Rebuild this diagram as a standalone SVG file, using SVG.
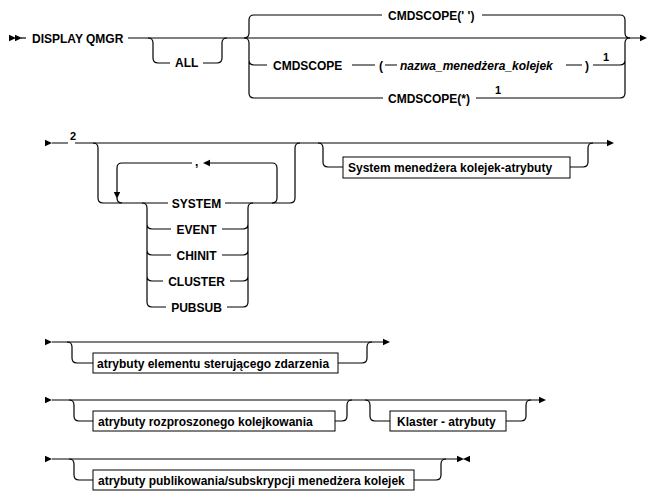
<svg xmlns="http://www.w3.org/2000/svg" width="649" height="494" viewBox="0 0 649 494">
<style>
  .ln{fill:none;stroke:#000;stroke-width:1.2}
  .kw{font-family:"Liberation Sans",Arial,sans-serif;font-weight:bold;font-size:12px;fill:#000}
  .var{font-style:italic}
  .sup{font-family:"Liberation Sans",Arial,sans-serif;font-weight:bold;font-size:11px;fill:#000}
  .box{fill:#fff;stroke:#000;stroke-width:1}
  .hd{fill:#000}
</style>
<defs>
  <path id="ah" d="M0,-3.2 L7,0 L0,3.2 Z"/>
</defs>
<rect width="649" height="494" fill="#fff"/>

<!-- connectors: rails, branches, loops and arrowheads -->
<g id="connectors">
  <!-- row 1 -->
  <use href="#ah" class="hd" x="9" y="38"/>
  <use href="#ah" class="hd" x="15" y="38"/>
  <path class="ln" d="M21,38 H26"/>
  <path class="ln" d="M128,38 H640"/>
  <use href="#ah" class="hd" x="640" y="38"/>
  <path class="ln" d="M148,38 Q153,38 153,43 V58 Q153,63 158,63 H170 M203,63 H217 Q222,63 222,58 V43 Q222,38 227,38"/>
  <path class="ln" d="M244,38 Q249,38 249,33 V20 Q249,15 254,15 H382 M244,38 Q249,38 249,43 V93 Q249,98 254,98 H383 M249,60 Q249,65 254,65 H267"/>
  <path class="ln" d="M352,65 H375 M385,65 H397 M566,65 H582"/>
  <path class="ln" d="M482,15 H620 Q625,15 625,20 V33 Q625,38 630,38 M476,98 H620 Q625,98 625,93 V43 Q625,38 630,38 M593,65 H620 Q625,65 625,60"/>

  <!-- row 2 -->
  <use href="#ah" class="hd" x="45" y="143"/>
  <path class="ln" d="M52,143 H68 M75,143 H607"/>
  <use href="#ah" class="hd" x="607" y="143"/>
  <path class="ln" d="M93,143 Q98,143 98,148 V198 Q98,203 103,203 H168 M225,203 H290 Q295,203 295,198 V148 Q295,143 300,143"/>
  <path class="ln" d="M272,203 Q277,203 277,198 V168 Q277,163 272,163 H210 M192,163 H122 Q117,163 117,168 V193 M117,198 Q117,203 122,203"/>
  <use href="#ah" class="hd" transform="translate(210,163) rotate(180)"/>
  <use href="#ah" class="hd" transform="translate(117,192) rotate(90)"/>
  <path class="ln" d="M142,203 Q147,203 147,208 V302 Q147,307 152,307 H166 M147,224 Q147,229 152,229 H171 M147,250 Q147,255 152,255 H171 M147,276 Q147,281 152,281 H163"/>
  <path class="ln" d="M222,229 H243 Q248,229 248,224 M222,255 H243 Q248,255 248,250 M230,281 H243 Q248,281 248,276 M227,307 H243 Q248,307 248,302 V208 Q248,203 253,203"/>
  <path class="ln" d="M318,143 Q323,143 323,148 V162 Q323,167 328,167 H343 M570,167 H583 Q588,167 588,162 V148 Q588,143 593,143"/>

  <!-- row 3 -->
  <use href="#ah" class="hd" x="45" y="342"/>
  <path class="ln" d="M52,342 H383"/>
  <use href="#ah" class="hd" x="383" y="342"/>
  <path class="ln" d="M67,342 Q72,342 72,347 V358 Q72,363 77,363 H93 M338,363 H362 Q367,363 367,358 V347 Q367,342 372,342"/>

  <!-- row 4 -->
  <use href="#ah" class="hd" x="45" y="400"/>
  <path class="ln" d="M52,400 H539"/>
  <use href="#ah" class="hd" x="539" y="400"/>
  <path class="ln" d="M69,400 Q74,400 74,405 V416 Q74,421 79,421 H93 M335,421 H342 Q347,421 347,416 V405 Q347,400 352,400"/>
  <path class="ln" d="M365,400 Q370,400 370,405 V416 Q370,421 375,421 H390 M506,421 H521 Q526,421 526,416 V405 Q526,400 531,400"/>

  <!-- row 5 -->
  <use href="#ah" class="hd" x="45" y="459"/>
  <path class="ln" d="M52,459 H457"/>
  <use href="#ah" class="hd" x="457" y="459"/>
  <path class="hd" d="M470,455.8 L470,462.2 L463,459 Z"/>
  <path class="ln" d="M69,459 Q74,459 74,464 V475 Q74,480 79,480 H93 M414,480 H436 Q441,480 441,475 V464 Q441,459 446,459"/>
</g>

<!-- row 1 nodes -->
<g id="display-qmgr"><text class="kw" x="32" y="43">DISPLAY QMGR</text></g>
<g id="all"><text class="kw" x="175" y="67">ALL</text></g>
<g id="cmdscope-blank"><text class="kw" x="388" y="20">CMDSCOPE(' ')</text></g>
<g id="cmdscope-qmgr">
  <text class="kw" x="273" y="70">CMDSCOPE</text>
  <text class="kw" x="379" y="70">(</text>
  <text class="kw var" x="400" y="70">nazwa_menedżera_kolejek</text>
  <text class="kw" x="585" y="70">)</text>
  <text class="sup" x="603" y="61">1</text>
</g>
<g id="cmdscope-star">
  <text class="kw" x="388" y="102.5">CMDSCOPE(*)</text>
  <text class="sup" x="495" y="94">1</text>
</g>

<!-- row 2 nodes -->
<g id="note-2"><text class="sup" x="70" y="140">2</text></g>
<g id="repeat-sep"><text class="kw" x="195" y="166">,</text></g>
<g id="system"><text class="kw" x="196.5" y="207.5" text-anchor="middle">SYSTEM</text></g>
<g id="event"><text class="kw" x="196.5" y="233.5" text-anchor="middle">EVENT</text></g>
<g id="chinit"><text class="kw" x="196.5" y="259.5" text-anchor="middle">CHINIT</text></g>
<g id="cluster"><text class="kw" x="196.5" y="285.5" text-anchor="middle">CLUSTER</text></g>
<g id="pubsub"><text class="kw" x="196.5" y="311.5" text-anchor="middle">PUBSUB</text></g>
<g id="qmgr-system-attrs">
  <rect class="box" x="343" y="157" width="227" height="21"/>
  <text class="kw" x="348" y="172">System menedżera kolejek-atrybuty</text>
</g>

<!-- row 3 node -->
<g id="event-control-attrs">
  <rect class="box" x="93" y="353" width="245" height="20"/>
  <text class="kw" x="97" y="368">atrybuty elementu sterującego zdarzenia</text>
</g>

<!-- row 4 nodes -->
<g id="distributed-queuing-attrs">
  <rect class="box" x="93" y="411" width="242" height="20"/>
  <text class="kw" x="98" y="426">atrybuty rozproszonego kolejkowania</text>
</g>
<g id="cluster-attrs">
  <rect class="box" x="390" y="411" width="116" height="20"/>
  <text class="kw" x="397" y="426">Klaster - atrybuty</text>
</g>

<!-- row 5 node -->
<g id="pubsub-attrs">
  <rect class="box" x="93" y="470" width="321" height="20"/>
  <text class="kw" x="98" y="485">atrybuty publikowania/subskrypcji menedżera kolejek</text>
</g>
</svg>
